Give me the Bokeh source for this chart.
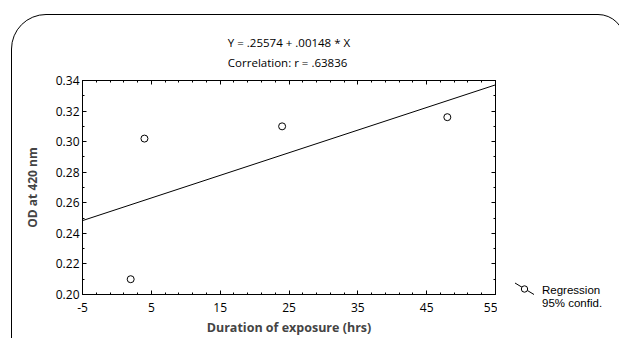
from bokeh.plotting import figure
from bokeh.layouts import row
from bokeh.models import (LinearAxis, FixedTicker, PrintfTickFormatter, Range1d,
                          Title, CustomJSTickFormatter, InlineStyleSheet, Div)
from bokeh.embed import file_html
from bokeh.resources import INLINE

# data
duration = [2, 4, 24, 48]
od = [0.210, 0.302, 0.310, 0.316]
intercept = 0.25574
slope = 0.00148
x_ticks = [-5, 5, 15, 25, 35, 45, 55]
y_ticks = [0.20, 0.22, 0.24, 0.26, 0.28, 0.30, 0.32, 0.34]
eq_text = "Y = .25574 + .00148 * X"
corr_text = "Correlation: r = .63836"
x_label = "Duration of exposure (hrs)"
y_label = "OD at 420 nm"
legend_lines = ["Regression", "95% confid."]

FONT = "Open Sans"

p = figure(width=497, height=338, output_backend="svg", toolbar_location=None,
           x_range=Range1d(-5, 55), y_range=Range1d(0.20, 0.34),
           min_border_left=82, min_border_right=2, min_border_top=80, min_border_bottom=44,
           x_axis_location=None, y_axis_location=None)
p.grid.visible = False
p.outline_line_color = "black"
p.outline_line_width = 1
p.background_fill_color = "white"
p.border_fill_color = None

x_minor = [v for v in range(-5, 56) if (v + 5) % 10 != 0 and (v + 5) % 2 == 0]
y_minor = [round(0.21 + 0.02 * i, 2) for i in range(7)]

def make_axis(kind, loc, show_labels, standoff=3):
    ax = LinearAxis()
    if kind == "x":
        ax.ticker = FixedTicker(ticks=x_ticks, minor_ticks=x_minor)
    else:
        ax.ticker = FixedTicker(ticks=y_ticks, minor_ticks=y_minor)
        ax.formatter = PrintfTickFormatter(format="%.2f")
    ax.major_tick_in = 4
    ax.major_tick_out = 0
    ax.minor_tick_in = 2
    ax.minor_tick_out = 0
    ax.axis_line_color = "black"
    ax.major_tick_line_color = "black"
    ax.minor_tick_line_color = "black"
    ax.major_label_text_font = FONT
    ax.major_label_text_font_size = "12px"
    ax.major_label_text_color = "black"
    ax.major_label_standoff = standoff
    if not show_labels:
        ax.formatter = CustomJSTickFormatter(code="return ''")
        ax.major_label_text_font_size = "1px"
        ax.major_label_standoff = 0
    p.add_layout(ax, loc)
    return ax

xb = make_axis("x", "below", True, standoff=8)
xb.axis_label = x_label
xb.axis_label_text_font = FONT
xb.axis_label_text_font_style = "bold"
xb.axis_label_text_font_size = "12.5px"
xb.axis_label_standoff = 4
xb.major_label_overrides = {-5: "-5"}
yl = make_axis("y", "left", True)
yl.axis_label = y_label
yl.axis_label_text_font = FONT
yl.axis_label_text_font_style = "bold"
yl.axis_label_text_font_size = "12px"
yl.axis_label_standoff = 12
make_axis("x", "above", False)
make_axis("y", "right", False)

xs = [-5, 55]
ys = [intercept + slope * v for v in xs]
p.line(xs, ys, line_color="black", line_width=1)
p.scatter(duration, od, size=7, marker="circle", fill_color="white",
          line_color="black", line_width=1)

title = Title(text=eq_text + "\n" + corr_text, align="center", text_font=FONT,
              text_font_size="11.5px", text_font_style="normal", text_color="black",
              text_line_height=1.3, standoff=22, offset=-4)
p.add_layout(title, "above")

# legend (key) panel to the right of the plot
key_svg = (
    '<div style="position:relative;width:122px;height:338px;margin:0;padding:0;">'
    '<svg width="122" height="338" style="position:absolute;left:0;top:0;">'
    '<line x1="18" y1="283" x2="37" y2="294.5" stroke="black" stroke-width="1"/>'
    '<circle cx="27.5" cy="289" r="3.2" fill="white" stroke="black" stroke-width="1"/>'
    f'<text x="45" y="294" font-family="Open Sans" font-size="11.5px" fill="black">{legend_lines[0]}</text>'
    f'<text x="45" y="307" font-family="Open Sans" font-size="11.5px" fill="black">{legend_lines[1]}</text>'
    '</svg></div>'
)
key = Div(text=key_svg, width=122, height=338, margin=0,
          styles={"padding": "0", "margin": "0"})

layout = row(p, key, spacing=0)
layout.stylesheets = [InlineStyleSheet(css="""
:host { overflow: hidden; position: relative; }
:host::after { content: ""; position: absolute; left: 11px; top: 14px; width: 614px; height: 420px;
  border: 1.5px solid black; border-radius: 35px 27px 0 0; pointer-events: none; box-sizing: border-box; }
""")]

open("out.html", "w").write(file_html(layout, INLINE))
